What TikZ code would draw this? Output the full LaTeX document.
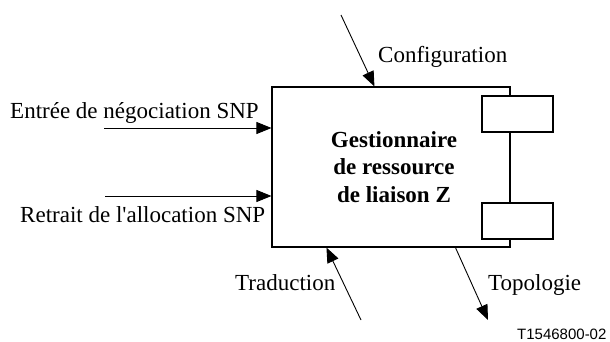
\documentclass[tikz,border=0pt]{standalone}
\usepackage{fontspec}
\setmainfont{Liberation Serif}[Ligatures=TeXOff]
\newfontfamily\figsans{Liberation Sans}
\usetikzlibrary{arrows.meta}
\begin{document}
\begin{tikzpicture}[x=1pt,y=-1pt,
  lbl/.style={inner sep=0pt,anchor=base west,font=\fontsize{23}{27.5}\selectfont},
  blockbox/.style={draw,line width=1.1pt,fill=white,inner sep=0pt},
  portbox/.style={draw,line width=1.1pt,fill=white,inner sep=0pt,minimum width=71pt,minimum height=36pt},
  flow/.style={line width=0.9pt,-{Triangle[length=15pt,width=12pt]}}]
\useasboundingbox (0,0) rectangle (610,342);

% resource manager block with its two ports on the right edge
\node[blockbox,minimum width=238pt,minimum height=160pt] (main) at (391,167) {};
\node[portbox] (portA) at (517.5,114) {};
\node[portbox] (portB) at (517.5,221) {};
\node[inner sep=0pt,align=center,font=\fontsize{23}{27.5}\selectfont\bfseries] (title) at (394,167)
  {Gestionnaire\\de ressource\\de liaison Z};

% free ends of the connectors
\coordinate (cfgTail) at (341,15);
\coordinate (entTail) at (104,128);
\coordinate (retTail) at (105,196);
\coordinate (traTail) at (361,320);
\coordinate (topHead) at (488,320);

% connectors
\draw[flow] (cfgTail) -- ([xshift=103pt]main.north west);
\draw[flow] (entTail) -- (main.west |- entTail);
\draw[flow] (retTail) -- (main.west |- retTail);
\draw[flow] (traTail) -- ([xshift=55pt]main.south west);
\draw[flow] ([xshift=184pt]main.south west) -- (topHead);

% labels
\node[lbl] (cfgLbl) at (378,63) {Configuration};
\node[lbl] (entLbl) at (10,119) {Entrée de négociation SNP};
\node[lbl] (retLbl) at (20,222) {Retrait de l'allocation SNP};
\node[lbl] (traLbl) at (235,290) {Traduction};
\node[lbl] (topLbl) at (488,290) {Topologie};
\node[inner sep=0pt,anchor=base west,font=\figsans\fontsize{15}{18}\selectfont] (figId) at (517,339) {T1546800-02};
\end{tikzpicture}
\end{document}
